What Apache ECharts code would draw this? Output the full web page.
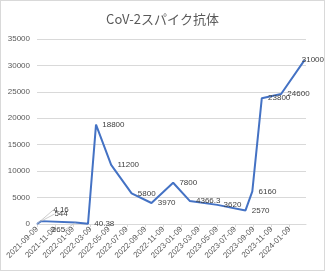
<!DOCTYPE html>
<html>
<head>
<meta charset="utf-8">
<script src="https://cdn.jsdelivr.net/npm/echarts@6/dist/echarts.min.js"></script>
<style>
html,body{margin:0;padding:0;background:#fff;}
#c{width:325px;height:271px;box-sizing:border-box;border:1px solid #d9d9d9;}
</style>
</head>
<body>
<div id="c"></div>
<script>
var titleText = 'CoV-2スパイク抗体';
var dates = ['2021-09-09','2021-09-23','2022-01-17','2022-02-28','2022-03-27','2022-05-17','2022-07-25','2022-09-30','2022-12-12','2023-02-06','2023-05-10','2023-08-13','2023-09-05','2023-10-07','2023-12-11','2024-02-28'];
var values = [4.16,544,265,40.38,18800,11200,5800,3970,7800,4366.3,3620,2570,6160,23800,24600,31000];
var tickDates = ['2021-09-09','2021-11-09','2022-01-09','2022-03-09','2022-05-09','2022-07-09','2022-09-09','2022-11-09','2023-01-09','2023-03-09','2023-05-09','2023-07-09','2023-09-09','2023-11-09','2024-01-09'];
var xMin = '2021-09-09';
var xMax = '2024-03-04';
var yTicks = [0,5000,10000,15000,20000,25000,30000,35000];

function ts(s){ var p = s.split('-'); return Date.UTC(+p[0], +p[1]-1, +p[2]); }
function pad(n){ return n < 10 ? '0' + n : '' + n; }

// label shifts for the crowded low points (leader lines)
var labelShift = {0: {dx: 10, dy: -14, line: true}, 1: {dx: 7, dy: -7, line: true}, 2: {dx: -30, dy: 7, line: true}, 15: {dx: -9, dy: 0}};

var seriesData = dates.map(function(d, i){
  var item = {value: [ts(d), values[i]]};
  if (labelShift[i] && labelShift[i].line) { item.labelLine = {show: true}; }
  return item;
});
var tickVals = tickDates.map(ts);

var chart = echarts.init(document.getElementById('c'), null, {renderer: 'canvas'});
chart.setOption({
  animation: false,
  title: {
    text: titleText, left: 'center', top: 7,
    textStyle: {fontFamily: 'Noto Sans CJK JP', fontSize: 13, fontWeight: 'normal', color: '#595959'}
  },
  grid: {left: 36, right: 18, top: 38, bottom: 46},
  xAxis: {
    type: 'value',
    min: ts(xMin), max: ts(xMax),
    axisLine: {show: true, lineStyle: {color: '#d9d9d9', width: 1}},
    axisTick: {show: true, customValues: tickVals, length: 3, lineStyle: {color: '#d9d9d9'}},
    splitLine: {show: false},
    axisLabel: {
      customValues: tickVals, rotate: 45, margin: 4,
      fontFamily: 'Liberation Sans', fontSize: 8, color: '#595959',
      formatter: function(v){ var d = new Date(v); return d.getUTCFullYear() + '-' + pad(d.getUTCMonth()+1) + '-' + pad(d.getUTCDate()); }
    }
  },
  yAxis: {
    type: 'value', min: yTicks[0], max: yTicks[yTicks.length-1], interval: 5000,
    axisLine: {show: false}, axisTick: {show: false},
    splitLine: {lineStyle: {color: '#d9d9d9', width: 1}},
    axisLabel: {fontFamily: 'Liberation Sans', fontSize: 8, color: '#595959', margin: 7,
      formatter: function(v){ return String(v); }}
  },
  series: [{
    type: 'line',
    data: seriesData,
    symbol: 'circle', symbolSize: 0.5, showSymbol: true,
    itemStyle: {color: '#4472C4'},
    lineStyle: {color: '#4472C4', width: 2},
    label: {
      show: true, position: 'right', distance: 6,
      fontFamily: 'Liberation Sans', fontSize: 8, color: '#404040',
      formatter: function(p){ return String(values[p.dataIndex]); }
    },
    labelLine: {show: false, lineStyle: {color: '#bfbfbf', width: 0.8}},
    labelLayout: function(p){
      var s = labelShift[p.dataIndex];
      if (s) { return {dx: s.dx, dy: s.dy}; }
      return {};
    }
  }]
});
</script>
</body>
</html>
